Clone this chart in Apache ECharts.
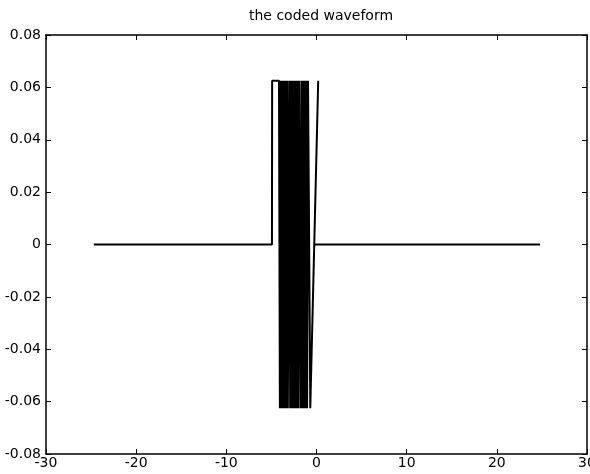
<!DOCTYPE html>
<html>
<head>
<meta charset="utf-8">
<script src="https://cdn.jsdelivr.net/npm/echarts@6/dist/echarts.min.js"></script>
<style>
html,body{margin:0;padding:0;background:#fff;}
#chart{width:590px;height:474px;}
</style>
</head>
<body>
<div id="chart"></div>
<script>
// Waveform samples (time, amplitude)
var times = [-24.7, -4.94, -4.92, -4.16, -4.06, -3.98, -3.88, -3.80, -3.70, -3.62, -3.54, -3.44, -3.36, -3.26, -3.18, -3.10, -3.02, -2.92, -2.84, -2.74, -2.66, -2.56, -2.48, -2.38, -2.30, -2.20, -2.12, -2.02, -1.94, -1.86, -1.76, -1.68, -1.58, -1.50, -1.40, -1.32, -1.22, -1.14, -1.04, -0.94, -0.69, 0.19];
var amps  = [0, 0, 0.0625, 0.0625, -0.0625, 0.0625, -0.0625, 0.0625, -0.0625, 0.0625, -0.0625, 0.0625, -0.0625, 0.0625, -0.0625, -0.0625, 0.0625, -0.0625, 0.0625, -0.0625, 0.0625, -0.0625, 0.0625, -0.0625, 0.0625, -0.0625, 0.0625, -0.0625, 0.0625, 0.0625, -0.0625, 0.0625, -0.0625, 0.0625, -0.0625, 0.0625, -0.0625, 0.0625, -0.0625, 0.0625, -0.0625, 0.0625];
// trailing zero segment
var tailTimes = [-0.22, 24.8];
var tailAmps  = [0, 0];

var xTicks = [-30, -20, -10, 0, 10, 20, 30];
var yTicks = [-0.08, -0.06, -0.04, -0.02, 0, 0.02, 0.04, 0.06, 0.08];

var main = times.map(function(t, i){ return [t, amps[i]]; });
var tail = tailTimes.map(function(t, i){ return [t, tailAmps[i]]; });

var fontFam = '"DejaVu Sans", "Liberation Sans", Arial, sans-serif';
function yFmt(v){ if (Math.abs(v) < 1e-9) return '0'; return v.toFixed(2); }

var chart = echarts.init(document.getElementById('chart'));
chart.setOption({
  animation: false,
  backgroundColor: '#fff',
  title: {
    text: 'the coded waveform',
    left: 316, top: 4, textAlign: 'center',
    textStyle: {fontFamily: fontFam, fontSize: 14, fontWeight: 'normal', color: '#000'}
  },
  grid: {left: 46, right: 3, top: 35, bottom: 20, containLabel: false, outerBoundsMode: 'none'},
  xAxis: [{
    type: 'value', min: xTicks[0], max: xTicks[xTicks.length-1], interval: 10,
    position: 'bottom',
    axisLine: {show: true, onZero: false, lineStyle: {color: '#000', width: 1.5}},
    axisTick: {show: true, inside: true, length: 5, lineStyle: {color: '#000', width: 1}},
    axisLabel: {color: '#000', fontFamily: fontFam, fontSize: 14, margin: 2},
    splitLine: {show: false}
  }, {
    type: 'value', min: xTicks[0], max: xTicks[xTicks.length-1], interval: 10,
    position: 'top',
    axisLine: {show: true, onZero: false, lineStyle: {color: '#000', width: 1.5}},
    axisTick: {show: true, inside: true, length: 5, lineStyle: {color: '#000', width: 1}},
    axisLabel: {show: false},
    splitLine: {show: false}
  }],
  yAxis: [{
    type: 'value', min: yTicks[0], max: yTicks[yTicks.length-1], interval: 0.02,
    position: 'left',
    axisLine: {show: true, onZero: false, lineStyle: {color: '#000', width: 1.5}},
    axisTick: {show: true, inside: true, length: 5, lineStyle: {color: '#000', width: 1}},
    axisLabel: {color: '#000', fontFamily: fontFam, fontSize: 14, margin: 5, formatter: yFmt},
    splitLine: {show: false}
  }, {
    type: 'value', min: yTicks[0], max: yTicks[yTicks.length-1], interval: 0.02,
    position: 'right',
    axisLine: {show: true, onZero: false, lineStyle: {color: '#000', width: 1.5}},
    axisTick: {show: true, inside: true, length: 5, lineStyle: {color: '#000', width: 1}},
    axisLabel: {show: false},
    splitLine: {show: false}
  }],
  series: [{
    type: 'line', data: main, showSymbol: false, symbol: 'none',
    lineStyle: {color: '#000', width: 2}, xAxisIndex: 0, yAxisIndex: 0
  }, {
    type: 'line', data: tail, showSymbol: false, symbol: 'none',
    lineStyle: {color: '#000', width: 2}, xAxisIndex: 0, yAxisIndex: 0
  }]
});
</script>
</body>
</html>
